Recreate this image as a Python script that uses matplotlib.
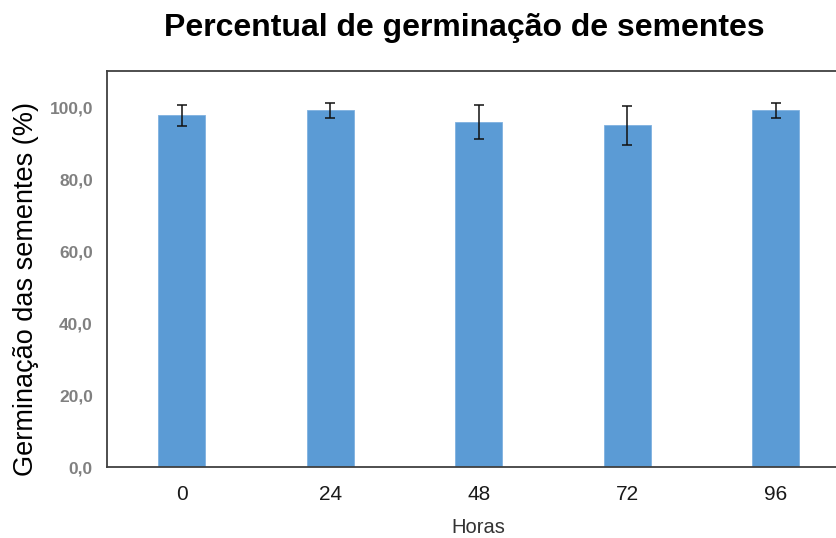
import numpy as np
import matplotlib.pyplot as plt

plt.rcParams['font.family'] = ['Liberation Sans', 'DejaVu Sans']

# data
horas = ['0', '24', '48', '72', '96']
germinacao = [97.7, 99.1, 95.8, 95.0, 99.1]
erro = [2.9, 2.1, 4.8, 5.4, 2.1]

fig = plt.figure(figsize=(8.37, 5.38), dpi=100)
ax = fig.add_axes([0.1284, 0.1314, 0.887, 0.7366])

x = np.arange(len(horas))
ax.bar(x, germinacao, width=0.315, color='#5b9bd5', edgecolor='#7fb1e0', linewidth=0.6,
       yerr=erro, error_kw=dict(ecolor='#111111', elinewidth=1.1, capsize=3.4, capthick=1.1))

ax.set_xlim(-0.5, 4.5)
ax.set_ylim(0, 110)
ax.set_yticks(np.arange(0, 101, 20))
ax.set_yticklabels([f'{v:.1f}'.replace('.', ',') for v in range(0, 101, 20)],
                   fontsize=12.5, fontweight='bold', color='#808080')
ax.set_xticks(x)
ax.set_xticklabels(horas, fontsize=15, color='#1a1a1a')
ax.tick_params(axis='both', length=0)
ax.tick_params(axis='x', pad=13)
ax.tick_params(axis='y', pad=10.5)

for s in ['left', 'top', 'bottom']:
    ax.spines[s].set_color('#404040')
    ax.spines[s].set_linewidth(1.3)
ax.spines['right'].set_visible(False)

ax.set_xlabel('Horas', fontsize=14.5, color='#333333', labelpad=10)

fig.text(26 / 837, 1 - 288.5 / 538, 'Germinação das sementes (%)', rotation=90,
         ha='center', va='center', fontsize=19.5, color='black')

fig.text(0.5544, 1 - 36 / 538, 'Percentual de germinação de sementes', ha='center',
         va='baseline', fontsize=23, fontweight='bold')

fig.savefig('out.png', dpi=100)
